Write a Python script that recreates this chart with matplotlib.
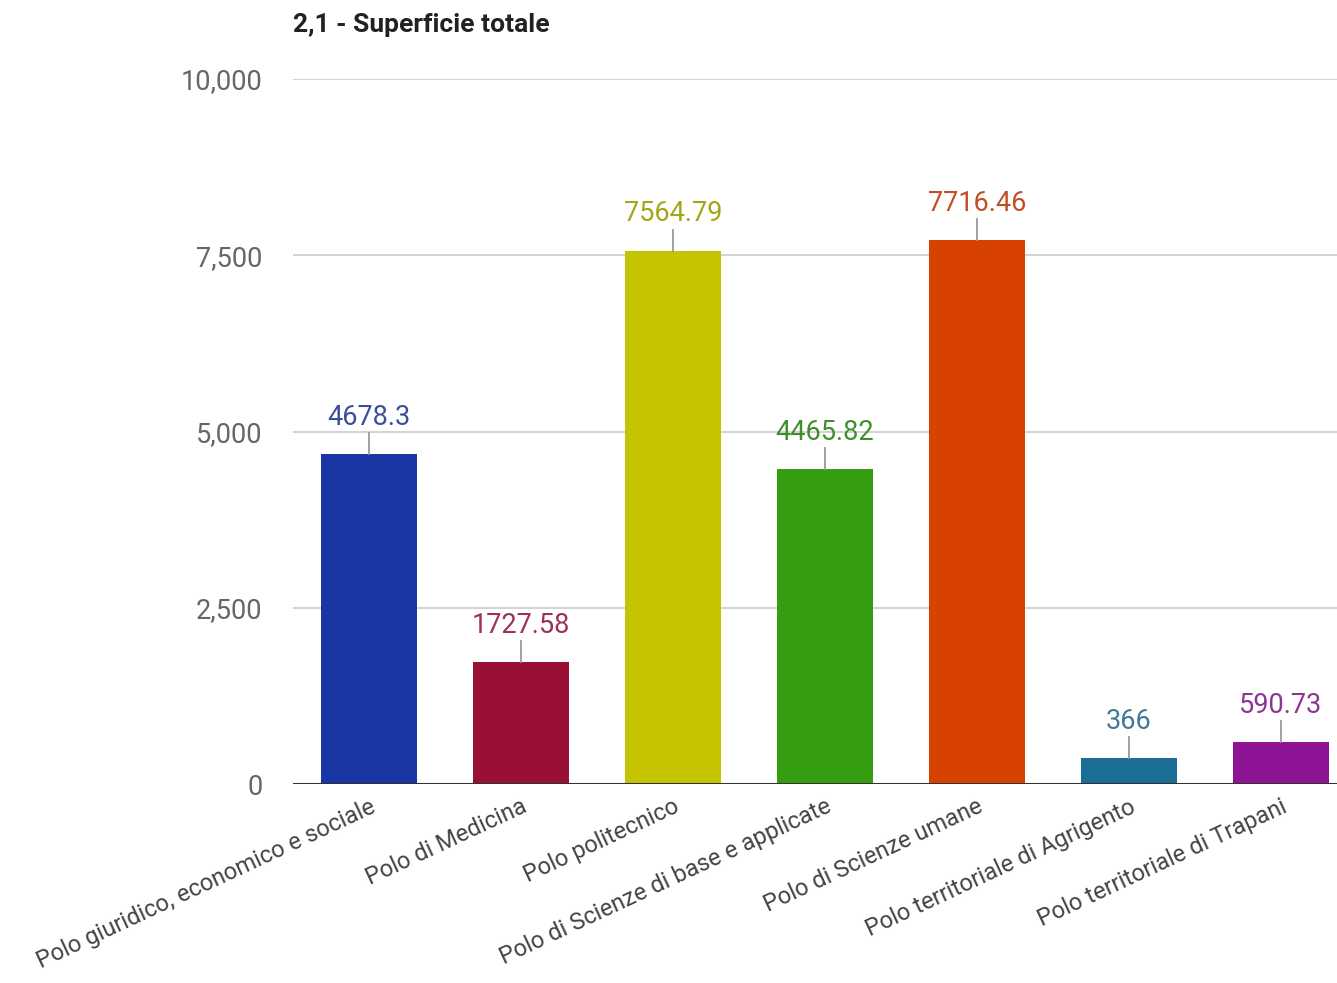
import matplotlib
matplotlib.use("Agg")
import matplotlib.pyplot as plt

plt.rcParams['font.family'] = ['Roboto', 'DejaVu Sans']

### data
categorie = ["Polo giuridico, economico e sociale", "Polo di Medicina", "Polo politecnico",
             "Polo di Scienze di base e applicate", "Polo di Scienze umane",
             "Polo territoriale di Agrigento", "Polo territoriale di Trapani"]
superficie = [4678.3, 1727.58, 7564.79, 4465.82, 7716.46, 366, 590.73]
etichette = ["4678.3", "1727.58", "7564.79", "4465.82", "7716.46", "366", "590.73"]
colori = ["#1a36a4", "#981034", "#c4c500", "#349e10", "#d84200", "#1b6f96", "#8e1496"]
colori_testo = ["#3b4e9c", "#a0304e", "#a4a61a", "#3e8e2a", "#c24f24", "#3f7a96", "#8e3496"]
y_ticks = [0, 2500, 5000, 7500, 10000]
y_tick_labels = ["0", "2,500", "5,000", "7,500", "10,000"]

fig = plt.figure(figsize=(13.37, 9.83), dpi=100)
# axes run a bit past the right edge, like the cropped original
ax = fig.add_axes([293 / 1337, 0.2024, 1064 / 1337, 0.7172])

x = list(range(len(categorie)))
ax.bar(x, superficie, width=0.63, color=colori, zorder=3)

### leader line + value label above each bar
for i, v in enumerate(superficie):
    ax.plot([i, i], [v, v + 300], color="#999999", lw=1.3, zorder=3)
    ax.text(i, v + 330, etichette[i], ha="center", va="bottom",
            fontsize=19.5, color=colori_testo[i])

ax.set_xlim(-0.5, 6.5)
ax.set_ylim(0, 10000)
ax.set_yticks(y_ticks)
ax.set_yticklabels(y_tick_labels, fontsize=19.5, color="#666666")
ax.tick_params(axis="y", length=0, pad=22)
ax.grid(axis="y", color="#cccccc", lw=1.2, zorder=0)
ax.axhline(0, color="#333333", lw=1.5, zorder=4)
for s in ax.spines.values():
    s.set_visible(False)

ax.set_xticks(x)
ax.set_xticklabels(categorie, rotation=25, ha="right", rotation_mode="anchor",
                   fontsize=17, color="#444444")
ax.tick_params(axis="x", length=0, pad=8)

fig.text(293 / 1337, 1 - 25 / 983, "2,1 - Superficie totale", fontsize=19,
         fontweight="bold", color="#222222", ha="left", va="center")

plt.savefig("out.png")
